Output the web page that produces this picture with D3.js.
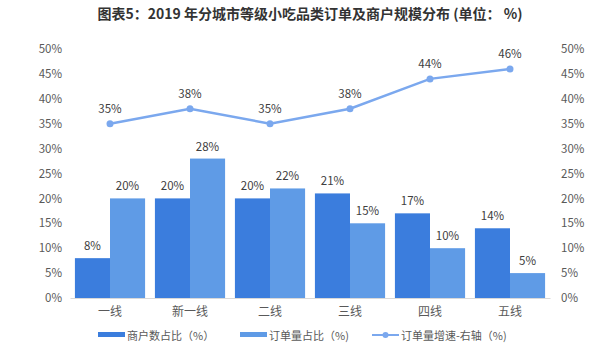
<!DOCTYPE html>
<html>
<head>
<meta charset="utf-8">
<script src="https://cdn.jsdelivr.net/npm/d3@7"></script>
<style>
  body { margin: 0; background: #fff; }
  text { font-family: "Noto Sans CJK SC", "Noto Sans", sans-serif; }
</style>
</head>
<body>
<div class="graph"></div>
<script>
// data
var cities = ["一线", "新一线", "二线", "三线", "四线", "五线"];
var merchantShare = [8, 20, 20, 21, 17, 14];
var orderShare = [20, 28, 22, 15, 10, 5];
var orderGrowth = [35, 38, 35, 38, 44, 46];
var tickValues = [0, 5, 10, 15, 20, 25, 30, 35, 40, 45, 50];

var width = 600, height = 358;
var plot = {left: 70, right: 550, top: 49, bottom: 298};

var darkBlue = "#3b7ddd", lightBlue = "#5f9be6", lineBlue = "#7ba8ee";

var svg = d3.select("div.graph").append("svg")
    .attr("width", width)
    .attr("height", height);

// title
svg.append("text")
    .attr("x", 310)
    .attr("y", 19)
    .attr("text-anchor", "middle")
    .attr("font-size", 14)
    .attr("font-weight", "bold")
    .attr("fill", "#333")
    .text("图表5：2019 年分城市等级小吃品类订单及商户规模分布 (单位： %)");

var x = d3.scaleBand().domain(cities).range([plot.left, plot.right]).paddingInner(0).paddingOuter(0);
var x1 = d3.scaleBand().domain(["m", "o"]).range([0, x.bandwidth()]).paddingInner(0).paddingOuter(0.14);
var y = d3.scaleLinear().domain([0, 50]).range([plot.bottom, plot.top]);
var y2 = d3.scaleLinear().domain([0, 50]).range([plot.bottom, plot.top]);

// left axis
var yAxis = svg.append("g")
    .attr("transform", "translate(" + (plot.left - 8) + ",0)")
    .call(d3.axisLeft(y).tickValues(tickValues).tickSize(0).tickPadding(0).tickFormat(function(d) { return d + "%"; }));
yAxis.select(".domain").remove();
yAxis.selectAll("text").attr("font-size", 11.5).attr("fill", "#595959");

// right axis
var y2Axis = svg.append("g")
    .attr("transform", "translate(" + (plot.right + 11) + ",0)")
    .call(d3.axisRight(y2).tickValues(tickValues).tickSize(0).tickPadding(0).tickFormat(function(d) { return d + "%"; }));
y2Axis.select(".domain").remove();
y2Axis.selectAll("text").attr("font-size", 11.5).attr("fill", "#595959");

// bars
var groups = svg.selectAll("g.city")
    .data(cities)
    .enter().append("g")
    .attr("class", "city")
    .attr("transform", function(d) { return "translate(" + x(d) + ",0)"; });

groups.append("rect")
    .attr("x", x1("m"))
    .attr("width", x1.bandwidth())
    .attr("y", function(d, i) { return y(merchantShare[i]); })
    .attr("height", function(d, i) { return plot.bottom - y(merchantShare[i]); })
    .attr("fill", darkBlue);

groups.append("rect")
    .attr("x", x1("o"))
    .attr("width", x1.bandwidth())
    .attr("y", function(d, i) { return y(orderShare[i]); })
    .attr("height", function(d, i) { return plot.bottom - y(orderShare[i]); })
    .attr("fill", lightBlue);

groups.append("text")
    .attr("x", x1("m") + x1.bandwidth() / 2)
    .attr("y", function(d, i) { return y(merchantShare[i]) - 8; })
    .attr("text-anchor", "middle")
    .attr("font-size", 11.5)
    .attr("fill", "#404040")
    .text(function(d, i) { return merchantShare[i] + "%"; });

groups.append("text")
    .attr("x", x1("o") + x1.bandwidth() / 2)
    .attr("y", function(d, i) { return y(orderShare[i]) - 8; })
    .attr("text-anchor", "middle")
    .attr("font-size", 11.5)
    .attr("fill", "#404040")
    .text(function(d, i) { return orderShare[i] + "%"; });

// baseline
var xAxis = svg.append("g")
    .attr("transform", "translate(0," + plot.bottom + ")")
    .call(d3.axisBottom(x).tickSize(0).tickPadding(9));
xAxis.select(".domain").attr("stroke", "#d9d9d9");
xAxis.selectAll("text").attr("font-size", 12).attr("fill", "#595959");

// growth line (right axis)
var line = d3.line()
    .x(function(d, i) { return x(cities[i]) + x.bandwidth() / 2; })
    .y(function(d) { return y2(d); });

svg.append("path")
    .datum(orderGrowth)
    .attr("d", line)
    .attr("fill", "none")
    .attr("stroke", lineBlue)
    .attr("stroke-width", 2.5);

svg.selectAll("circle.pt")
    .data(orderGrowth)
    .enter().append("circle")
    .attr("class", "pt")
    .attr("cx", function(d, i) { return x(cities[i]) + x.bandwidth() / 2; })
    .attr("cy", function(d) { return y2(d); })
    .attr("r", 3.5)
    .attr("fill", lineBlue);

svg.selectAll("text.pt")
    .data(orderGrowth)
    .enter().append("text")
    .attr("class", "pt")
    .attr("x", function(d, i) { return x(cities[i]) + x.bandwidth() / 2; })
    .attr("y", function(d) { return y2(d) - 11; })
    .attr("text-anchor", "middle")
    .attr("font-size", 11.5)
    .attr("fill", "#404040")
    .text(function(d) { return d + "%"; });

// legend
var legend = svg.append("g").attr("transform", "translate(0,336)");

legend.append("rect").attr("x", 98).attr("y", -4).attr("width", 27).attr("height", 5).attr("fill", darkBlue);
legend.append("text").attr("x", 127).attr("y", 0).attr("dy", "0.35em").attr("font-size", 11).attr("fill", "#595959").text("商户数占比（%）");

legend.append("rect").attr("x", 240).attr("y", -4).attr("width", 27).attr("height", 5).attr("fill", lightBlue);
legend.append("text").attr("x", 269).attr("y", 0).attr("dy", "0.35em").attr("font-size", 11).attr("fill", "#595959").text("订单量占比（%)");

legend.append("line").attr("x1", 372).attr("x2", 399).attr("y1", -1).attr("y2", -1).attr("stroke", lineBlue).attr("stroke-width", 2);
legend.append("circle").attr("cx", 385.5).attr("cy", -1).attr("r", 3).attr("fill", lineBlue);
legend.append("text").attr("x", 401).attr("y", 0).attr("dy", "0.35em").attr("font-size", 11).attr("fill", "#595959").text("订单量增速-右轴（%)");
</script>
</body>
</html>
